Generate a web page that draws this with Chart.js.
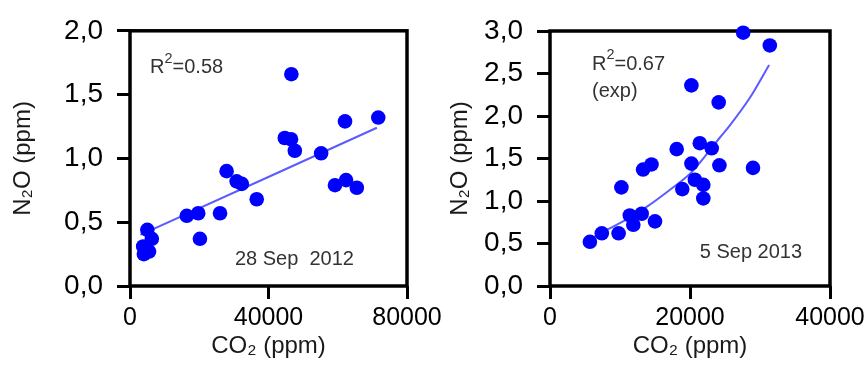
<!DOCTYPE html>
<html><head><meta charset="utf-8">
<script src="https://cdn.jsdelivr.net/npm/chart.js@4"></script>
<style>
html,body{margin:0;padding:0;background:#fff;width:867px;height:369px;overflow:hidden;position:relative}
canvas{position:absolute;top:0}
#c1{left:0}
#c2{left:430px}
</style></head><body>
<canvas id="c1" width="470" height="369"></canvas>
<canvas id="c2" width="437" height="369"></canvas>
<script>
// ---- data: 28 Sep 2012 ----
const leftCO2 = [5000, 6300, 3800, 4000, 5500, 16400, 19700, 26000, 20200, 27900, 30800, 32300, 36600, 44700, 46500, 47600, 46600, 55200, 62100, 71700, 59200, 62400, 65500];
const leftN2O = [0.44, 0.37, 0.31, 0.25, 0.27, 0.55, 0.57, 0.57, 0.37, 0.90, 0.82, 0.80, 0.68, 1.16, 1.15, 1.06, 1.66, 1.04, 1.29, 1.32, 0.79, 0.83, 0.77];
const leftFitCO2 = [3000, 71300];
const leftFitN2O = [0.40, 1.24];
// ---- data: 5 Sep 2013 ----
const rightCO2 = [27600, 31400, 20200, 24100, 21400, 23100, 18100, 20200, 24200, 29000, 14500, 13300, 10200, 20700, 21900, 18900, 21900, 11400, 13100, 11900, 15000, 9800, 7400, 5700];
const rightN2O = [2.98, 2.83, 2.36, 2.16, 1.68, 1.62, 1.61, 1.44, 1.42, 1.39, 1.43, 1.37, 1.16, 1.25, 1.19, 1.14, 1.03, 0.83, 0.85, 0.72, 0.76, 0.62, 0.62, 0.52];
const rightFitCO2 = [5700, 8600, 11500, 13800, 17100, 20000, 21400, 24300, 25700, 28600, 31300];
const rightFitN2O = [0.55, 0.68, 0.81, 0.93, 1.13, 1.32, 1.45, 1.75, 1.89, 2.22, 2.60];
// ---- ticks & texts ----
const leftXTicks = [0, 40000, 80000];
const rightXTicks = [0, 20000, 40000];
const leftYTicks = ['0,0', '0,5', '1,0', '1,5', '2,0'];
const rightYTicks = ['0,0', '0,5', '1,0', '1,5', '2,0', '2,5', '3,0'];
const xTitle = 'CO₂ (ppm)';
const yTitle = 'N₂O (ppm)';
const leftR2 = '0.58';
const rightR2 = '0.67';
const leftDate = '28 Sep  2012';
const rightDate = '5 Sep 2013';
const rightFitKind = '(exp)';

const FONT = "'Liberation Sans', Arial, 'DejaVu Sans', sans-serif";

const boxPlugin = {
  id: 'box',
  beforeDatasetsDraw(chart) {
    const {ctx, chartArea: a} = chart;
    ctx.save();
    ctx.strokeStyle = '#000';
    ctx.lineWidth = 3.5;
    ctx.strokeRect(a.left, a.top, a.right - a.left, a.bottom - a.top);
    ctx.restore();
  }
};
// items: {parts: [[text, sup?]], x, y, size}
const notesPlugin = {
  id: 'notes',
  afterDatasetsDraw(chart, args, opts) {
    const {ctx} = chart;
    const xs = chart.scales.x, ys = chart.scales.y;
    ctx.save();
    ctx.textAlign = 'left';
    ctx.textBaseline = 'middle';
    ctx.fillStyle = '#333';
    (opts.items || []).forEach(it => {
      let px = xs.getPixelForValue(it.x);
      const py = ys.getPixelForValue(it.y);
      it.parts.forEach(([t, sup]) => {
        const sz = sup ? it.size * 0.72 : it.size;
        ctx.font = sz + 'px ' + FONT;
        ctx.fillText(t, px, sup ? py - it.size * 0.45 : py);
        px += ctx.measureText(t).width;
      });
    });
    ctx.restore();
  }
};

function makeChart(id, cfg) {
  const pts = cfg.xs.map((x, i) => ({x, y: cfg.ys[i]}));
  const fit = cfg.fx.map((x, i) => ({x, y: cfg.fy[i]}));
  return new Chart(document.getElementById(id), {
    type: 'scatter',
    data: {
      datasets: [
        {data: pts, order: 0, pointRadius: 7.3, pointBackgroundColor: '#0000ff', pointBorderWidth: 0, showLine: false, clip: false},
        {data: fit, order: 1, showLine: true, pointRadius: 0, borderColor: 'rgba(50,50,255,0.8)', borderWidth: 2, cubicInterpolationMode: 'monotone', fill: false}
      ]
    },
    options: {
      responsive: false,
      animation: false,
      events: [],
      layout: {padding: {top: cfg.padTop, right: cfg.padRight, left: 0, bottom: 0}},
      plugins: {legend: {display: false}, tooltip: {enabled: false}, notes: {items: cfg.notes}},
      scales: {
        x: {
          type: 'linear', min: cfg.xTicks[0], max: cfg.xTicks[cfg.xTicks.length - 1],
          afterBuildTicks(s) { s.ticks = cfg.xTicks.map(v => ({value: v})); },
          afterFit(s) { s.height = 83; s.paddingLeft = 0; s.paddingRight = 0; },
          border: {display: false},
          grid: {display: true, drawOnChartArea: false, drawTicks: true, tickLength: 13, tickWidth: 3, tickColor: '#000'},
          ticks: {padding: 4, color: '#000', font: {family: FONT, size: 25}, maxRotation: 0, autoSkip: false, callback: v => String(v)},
          title: {display: true, text: xTitle, color: '#1a1a1a', font: {family: FONT, size: 24}, padding: {top: 0, bottom: 8}}
        },
        y: {
          type: 'linear', min: 0, max: cfg.yMax,
          afterBuildTicks(s) { s.ticks = cfg.yTicks.map((t, i) => ({value: i * 0.5})); },
          afterFit(s) { s.width = cfg.yWidth; },
          border: {display: false},
          grid: {display: true, drawOnChartArea: false, drawTicks: true, tickLength: 13, tickWidth: 3, tickColor: '#000'},
          ticks: {padding: 14, color: '#000', font: {family: FONT, size: 28}, autoSkip: false, callback: (v, i) => cfg.yTicks[i]},
          title: {display: true, text: yTitle, color: '#1a1a1a', font: {family: FONT, size: 24}, padding: {top: cfg.yTitlePad, bottom: 0}}
        }
      }
    },
    plugins: [boxPlugin, notesPlugin]
  });
}

makeChart('c1', {
  xs: leftCO2, ys: leftN2O, fx: leftFitCO2, fy: leftFitN2O,
  xTicks: leftXTicks, yTicks: leftYTicks, yMax: 2.0,
  padTop: 27, padRight: 63, yWidth: 130, yTitlePad: 9,
  notes: [
    {parts: [['R'], ['2', true], ['=' + leftR2]], x: 5800, y: 1.71, size: 20},
    {parts: [[leftDate]], x: 30300, y: 0.21, size: 20}
  ]
});
makeChart('c2', {
  xs: rightCO2, ys: rightN2O, fx: rightFitCO2, fy: rightFitN2O,
  xTicks: rightXTicks, yTicks: rightYTicks, yMax: 3.0,
  padTop: 31, padRight: 37, yWidth: 120, yTitlePad: 16,
  notes: [
    {parts: [['R'], ['2', true], ['=' + rightR2]], x: 6000, y: 2.61, size: 20},
    {parts: [[rightFitKind]], x: 6000, y: 2.29, size: 20},
    {parts: [[rightDate]], x: 21400, y: 0.39, size: 20}
  ]
});
</script>
</body></html>
